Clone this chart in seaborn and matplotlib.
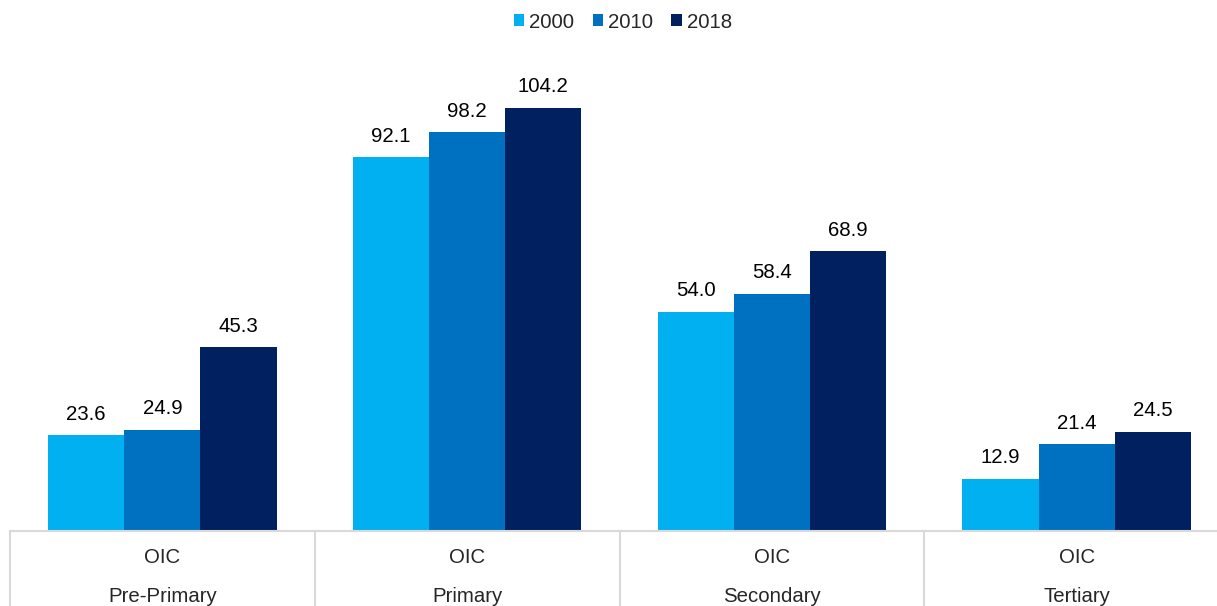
import matplotlib
matplotlib.use("Agg")
import matplotlib.pyplot as plt
import matplotlib.transforms as mtransforms
import seaborn as sns
import pandas as pd

categories = ["Pre-Primary", "Primary", "Secondary", "Tertiary"]
group_label = "OIC"
years = ["2000", "2010", "2018"]
values_2000 = [23.6, 92.1, 54.0, 12.9]
values_2010 = [24.9, 98.2, 58.4, 21.4]
values_2018 = [45.3, 104.2, 68.9, 24.5]
colors = ["#00B0F0", "#0070C0", "#002060"]

rows = []
for yr, vals in zip(years, [values_2000, values_2010, values_2018]):
    for c, v in zip(categories, vals):
        rows.append({"category": c, "year": yr, "value": v})
df = pd.DataFrame(rows)

sns.set_style("white")
plt.rcParams["font.family"] = ["Liberation Sans", "DejaVu Sans"]
FS = 14.7

W, H = 1217, 606
fig = plt.figure(figsize=(W / 100, H / 100), dpi=100)
ax = fig.add_axes([10 / W, 75 / H, 1219 / W, (531 - 60) / H])

sns.barplot(data=df, x="category", y="value", hue="year", order=categories,
            hue_order=years, palette=colors, width=0.75, gap=0, linewidth=0,
            saturation=1, ax=ax, errorbar=None)

ax.set_xlim(-0.5, len(categories) - 0.5)
ax.set_ylim(0, 116.0)

for cont in ax.containers:
    ax.bar_label(cont, fmt="%.1f", padding=8.3, fontsize=FS, color="#000000")

handles, labels = ax.get_legend_handles_labels()
if ax.get_legend() is not None:
    ax.get_legend().remove()
fig.legend(handles, labels, loc="center", bbox_to_anchor=(623 / W, 1 - 22 / H),
           ncol=3, frameon=False, fontsize=FS, handlelength=0.5,
           handleheight=0.5, handletextpad=0.25, columnspacing=0.9)

ax.set_xlabel("")
ax.set_ylabel("")
ax.set_yticks([])
ax.set_xticks([])
for s in ["top", "right", "left"]:
    ax.spines[s].set_visible(False)
ax.spines["bottom"].set_color("#d9d9d9")
ax.spines["bottom"].set_linewidth(1.5)

trans = mtransforms.blended_transform_factory(ax.transData, fig.transFigure)
ybot = 75 / H
for i in range(len(categories) + 1):
    x = i - 0.5
    ax.plot([x, x], [ybot, 0], transform=trans, color="#d9d9d9", lw=1.5,
            clip_on=False)

for i, c in enumerate(categories):
    ax.annotate(group_label, xy=(i, 0), xycoords=("data", "axes fraction"),
                xytext=(0, -19), textcoords="offset points", ha="center",
                va="center", fontsize=FS)
    ax.annotate(c, xy=(i, 0), xycoords=("data", "axes fraction"),
                xytext=(0, -47), textcoords="offset points", ha="center",
                va="center", fontsize=FS)

fig.savefig("out.png", dpi=100)
